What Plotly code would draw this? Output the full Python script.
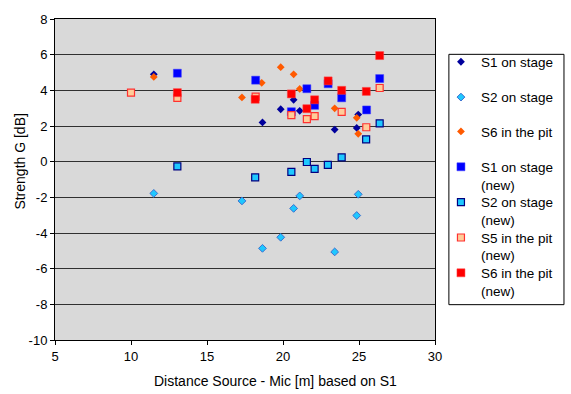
import plotly.graph_objects as go

# ---- data ----
s1_x = [11.5, 18.65, 19.85, 20.7, 21.1, 23.4, 24.95, 24.85]
s1_y = [4.9, 2.2, 2.94, 3.47, 2.85, 1.8, 2.64, 1.89]

s2_x = [11.5, 17.3, 18.65, 19.85, 20.7, 21.1, 23.4, 24.95, 24.85]
s2_y = [-1.78, -2.2, -4.86, -4.24, -2.62, -1.92, -5.06, -1.83, -3.02]

s6_x = [11.5, 17.3, 18.6, 19.85, 20.7, 21.1, 23.4, 24.85, 24.95]
s6_y = [4.75, 3.6, 4.42, 5.3, 4.9, 4.08, 2.99, 2.46, 1.56]

s1n_x = [13.05, 18.2, 20.55, 21.57, 22.08, 22.97, 23.86, 25.5, 26.36]
s1n_y = [4.96, 4.57, 2.8, 4.09, 3.16, 4.37, 3.58, 2.9, 4.66]

s2n_x = [13.05, 18.17, 20.55, 21.57, 22.08, 22.95, 23.86, 25.47, 26.36]
s2n_y = [-0.26, -0.88, -0.57, -0.02, -0.4, -0.18, 0.24, 1.25, 2.15]

s5n_x = [10.0, 13.05, 18.2, 20.55, 21.57, 22.08, 23.86, 25.48, 26.36]
s5n_y = [3.87, 3.58, 3.65, 2.61, 2.39, 2.55, 2.79, 1.93, 4.13]

s6n_x = [13.05, 18.17, 20.55, 21.57, 22.08, 22.97, 23.86, 25.48, 26.36]
s6n_y = [3.87, 3.5, 3.8, 2.97, 3.47, 4.53, 4.0, 3.94, 5.95]

series_names = ["S1 on stage", "S2 on stage", "S6 in the pit",
                "S1 on stage<br>(new)", "S2 on stage<br>(new)",
                "S5 in the pit<br>(new)", "S6 in the pit<br>(new)"]

x_ticks = [5, 10, 15, 20, 25, 30]
y_ticks = [8, 6, 4, 2, 0, -2, -4, -6, -8, -10]

FONT = "Liberation Sans, Arial, sans-serif"
W, H = 571, 394
ML, MR, MT, MB = 55, 133, 13, 54
PW = W - ML - MR
PH = H - MT - MB

def px_x(px):
    return (px - ML) / PW

def px_y(py):
    return 1 - (py - MT) / PH

styles = [
    ("diamond", 6, "#00009C", "#00009C", 0),
    ("diamond", 6, "#1EC8FF", "#3A6FD0", 1),
    ("diamond", 6, "#FF5A00", "#FF7A30", 0),
    ("square", 8, "#0000FF", "#4040FF", 0.5),
    ("square", 7, "#1EC8FF", "#000080", 1.2),
    ("square", 7, "#FFCC99", "#FF3030", 1.2),
    ("square", 8, "#FF0000", "#FF4040", 0.5),
]
data = [(s1_x, s1_y), (s2_x, s2_y), (s6_x, s6_y), (s1n_x, s1n_y),
        (s2n_x, s2n_y), (s5n_x, s5n_y), (s6n_x, s6n_y)]

# first-line centre (px) of each legend entry
legend_line_y = [62, 98, 133, 169, 205, 241, 277]
LEG_LEFT = 444
LEG_OFFSET = 21  # distance legend top -> first text line centre

fig = go.Figure()
layout_legends = {}
for i, (name, (xs, ys), st) in enumerate(zip(series_names, data, styles)):
    sym, size, fill, edge, lw = st
    key = "legend" if i == 0 else f"legend{i + 1}"
    fig.add_trace(go.Scatter(
        x=xs, y=ys, mode="markers", name=name, legend=key,
        marker=dict(symbol=sym, size=size, color=fill,
                    line=dict(color=edge, width=lw)),
    ))
    layout_legends[key] = dict(
        x=px_x(LEG_LEFT), y=px_y(legend_line_y[i] - LEG_OFFSET),
        xanchor="left", yanchor="top",
        bgcolor="rgba(0,0,0,0)", borderwidth=0,
        font=dict(family=FONT, size=13.5, color="black"),
        valign="top",
    )

fig.update_layout(
    width=W, height=H,
    margin=dict(l=ML, r=MR, t=MT, b=MB),
    paper_bgcolor="white",
    plot_bgcolor="#D9D9D9",
    font=dict(family=FONT, size=13, color="black"),
    showlegend=True,
    annotations=[
        dict(text="Distance Source - Mic [m] based on S1",
             x=px_x(277), y=px_y(382),
             xref="paper", yref="paper", showarrow=False,
             xanchor="center", yanchor="middle",
             font=dict(family=FONT, size=14)),
        dict(text="Strength G [dB]",
             x=px_x(20), y=px_y(158),
             xref="paper", yref="paper", showarrow=False, textangle=-90,
             xanchor="center", yanchor="middle",
             font=dict(family=FONT, size=14)),
    ],
    shapes=[
        dict(type="rect", xref="paper", yref="paper",
             x0=px_x(452), x1=px_x(568), y0=px_y(304), y1=px_y(49),
             line=dict(color="black", width=1), fillcolor="white",
             layer="below"),
    ],
    **layout_legends,
)

fig.update_xaxes(
    range=[5, 30], tickvals=x_ticks, ticktext=[str(v) for v in x_ticks],
    showgrid=False, zeroline=False,
    showline=True, linecolor="black", linewidth=1, mirror=True,
    ticks="outside", ticklen=4, tickcolor="black",
    tickfont=dict(family=FONT, size=13),
)
fig.update_yaxes(
    range=[-10, 8], tickvals=y_ticks, ticktext=[str(v) for v in y_ticks],
    showgrid=True, gridcolor="#303030", gridwidth=1, zeroline=False,
    showline=True, linecolor="black", linewidth=1, mirror=True,
    ticks="outside", ticklen=4, tickcolor="black",
    tickfont=dict(family=FONT, size=13),
)

fig.write_html("out.html")
